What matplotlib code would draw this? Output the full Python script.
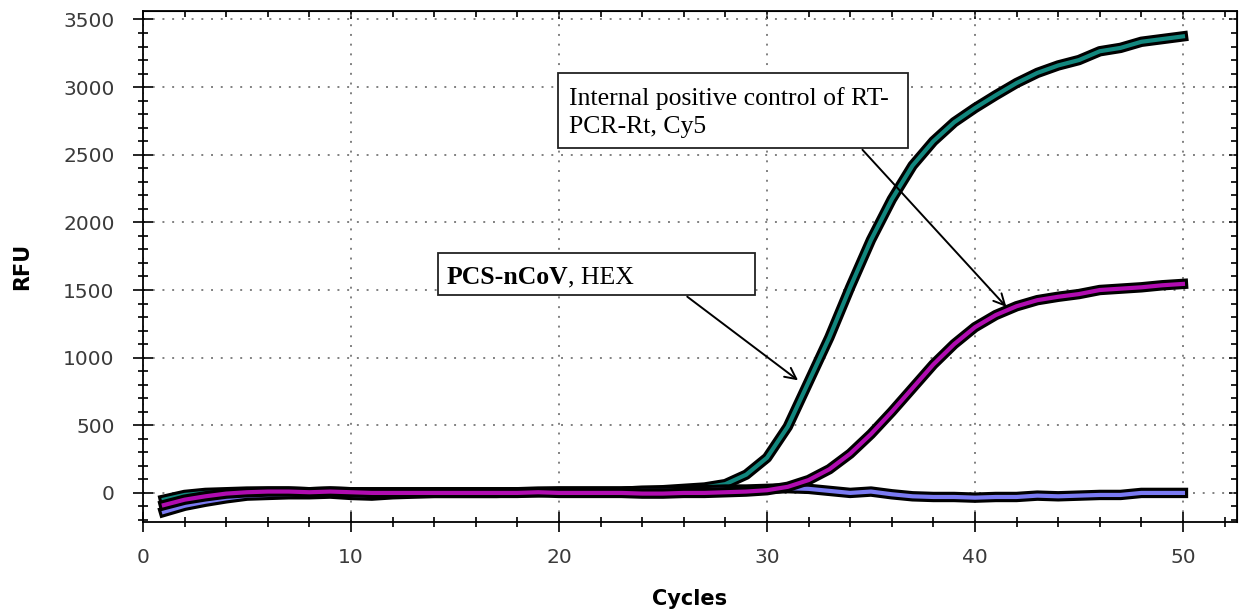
import matplotlib
matplotlib.use("Agg")
import matplotlib.pyplot as plt
import matplotlib.patheffects as pe
from matplotlib.patches import Rectangle
from matplotlib.ticker import MultipleLocator

cycles = list(range(1, 51))

# PCS-nCoV, HEX (teal)
hex_rfu = [-50, -15, 0, 5, 10, 10, 10, 5, 10, 5,
           5, 5, 5, 5, 5, 5, 5, 5, 10, 10,
           10, 10, 10, 15, 20, 30, 40, 65, 135, 260,
           490, 820, 1150, 1520, 1870, 2170, 2420, 2600, 2740, 2845,
           2940, 3030, 3105, 3160, 3200, 3265, 3290, 3335, 3355, 3375]

# internal positive control, Cy5 (magenta)
cy5_rfu = [-90, -50, -25, -5, 5, 10, 10, 5, 10, 5,
           0, 0, 0, 0, 0, 0, 0, 0, 5, 0,
           0, 0, 0, -5, -5, 0, 0, 5, 10, 20,
           45, 95, 175, 290, 435, 600, 775, 950, 1100, 1225,
           1315, 1380, 1425, 1450, 1470, 1500, 1510, 1520, 1535, 1545]

# third channel (blue), stays flat
blue_rfu = [-140, -95, -65, -40, -20, -15, -10, -10, -5, -15,
            -20, -10, -5, 0, 0, 0, 0, 5, 5, 10,
            10, 10, 10, 15, 15, 20, 20, 25, 25, 30,
            35, 30, 15, 0, 10, -10, -25, -30, -30, -35,
            -30, -30, -20, -25, -20, -15, -15, 0, 0, 0]

c_teal = "#12877e"
c_magenta = "#b00cb0"
c_blue = "#7a7af2"

fig = plt.figure(figsize=(12.46, 6.16), dpi=100)
ax = fig.add_axes([0.1148, 0.1526, 0.878, 0.8294])

outline = [pe.Stroke(linewidth=7.5, foreground="black"), pe.Normal()]
ax.plot(cycles, hex_rfu, color=c_teal, lw=3, path_effects=outline, zorder=3)
ax.plot(cycles, blue_rfu, color=c_blue, lw=3, path_effects=outline, zorder=3)
ax.plot(cycles, cy5_rfu, color=c_magenta, lw=3, path_effects=outline, zorder=3)

ax.set_xlim(0, 52.6)
ax.set_ylim(-215, 3562)
ax.xaxis.set_major_locator(MultipleLocator(10))
ax.xaxis.set_minor_locator(MultipleLocator(2))
ax.yaxis.set_major_locator(MultipleLocator(500))
ax.yaxis.set_minor_locator(MultipleLocator(100))

ax.grid(True, which="major", color="#808080", linestyle=(0, (1, 4)), lw=1.4)
ax.set_axisbelow(True)

ax.tick_params(axis="x", which="major", pad=11)
ax.tick_params(axis="y", which="major", pad=13)
ax.tick_params(which="major", direction="inout", length=15, width=1.2,
               labelsize=14.5, labelcolor="#3a3a3a")
ax.tick_params(which="minor", direction="inout", length=7.5, width=1.2)
for sp in ax.spines.values():
    sp.set_linewidth(1.3)

# inward ticks on top and right spines
top = ax.secondary_xaxis("top")
top.xaxis.set_major_locator(MultipleLocator(10))
top.xaxis.set_minor_locator(MultipleLocator(2))
top.tick_params(which="major", direction="in", length=6, width=1.2, labeltop=False)
top.tick_params(which="minor", direction="in", length=4, width=1.2)
right = ax.secondary_yaxis("right")
right.yaxis.set_major_locator(MultipleLocator(500))
right.yaxis.set_minor_locator(MultipleLocator(100))
right.tick_params(which="major", direction="in", length=6, width=1.2, labelright=False)
right.tick_params(which="minor", direction="in", length=4, width=1.2)

ax.set_xlabel("Cycles", fontsize=15, fontweight="bold", family="DejaVu Sans", labelpad=16)
ax.set_ylabel("RFU", fontsize=15, fontweight="bold", family="DejaVu Sans", labelpad=22)
for lbl in ax.get_xticklabels() + ax.get_yticklabels():
    lbl.set_family("DejaVu Sans")

# annotation boxes
ax.add_patch(Rectangle((19.95, 2552), 16.85, 552, facecolor="white",
                       edgecolor="#222222", lw=1.3, zorder=4))
ax.text(20.5, 3000, "Internal positive control of RT-\nPCR-Rt, Cy5",
        family="Liberation Serif", fontsize=18.5, va="top", ha="left",
        linespacing=1.35, zorder=5)
ax.annotate("", xy=(41.6, 1360), xytext=(34.5, 2552),
            arrowprops=dict(arrowstyle="->", color="black", lw=1.4,
                            mutation_scale=20), zorder=5)

ax.add_patch(Rectangle((14.2, 1463), 15.2, 313, facecolor="white",
                       edgecolor="#222222", lw=1.3, zorder=4))
t1 = ax.text(14.6, 1595, "PCS-nCoV", family="Liberation Serif", fontsize=18.5,
             fontweight="bold", va="center", ha="left", zorder=5)
ax.annotate(", HEX", xycoords=t1, xy=(1, 0), va="bottom", ha="left",
            family="Liberation Serif", fontsize=18.5, zorder=5)
ax.annotate("", xy=(31.6, 820), xytext=(26.06, 1463),
            arrowprops=dict(arrowstyle="->", color="black", lw=1.4,
                            mutation_scale=20), zorder=5)

fig.savefig("out.png", dpi=100)
